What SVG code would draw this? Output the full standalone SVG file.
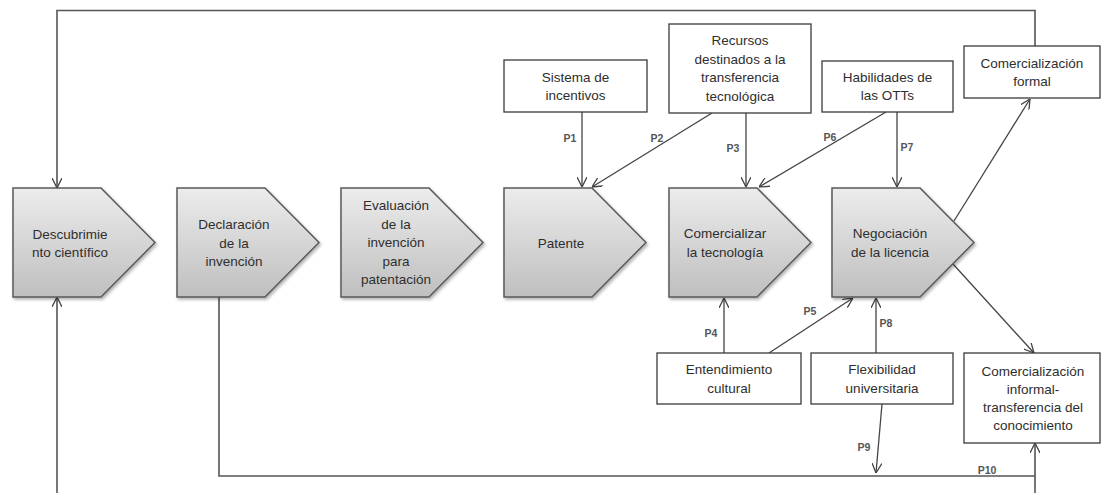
<svg xmlns="http://www.w3.org/2000/svg" width="1102" height="493" viewBox="0 0 1102 493">
<defs>
<linearGradient id="pg" x1="0" y1="0" x2="0" y2="1">
<stop offset="0" stop-color="#ececec"/>
<stop offset="1" stop-color="#bfbfbf"/>
</linearGradient>
<filter id="sh" x="-10%" y="-10%" width="125%" height="125%">
<feDropShadow dx="1.5" dy="2" stdDeviation="1.5" flood-color="#000" flood-opacity="0.3"/>
</filter>
<marker id="arr" viewBox="0 0 10 10" refX="10" refY="5" markerWidth="10" markerHeight="10" markerUnits="userSpaceOnUse" orient="auto">
<path d="M0,0 L10,5 L0,10" fill="none" stroke="#444" stroke-width="1.3"/>
</marker>
<style>
.pent{fill:url(#pg);stroke:#5a5a5a;stroke-width:1.5;filter:url(#sh)}
.box{fill:#fff;stroke:#3a3a3a;stroke-width:1.3}
.t{font-family:"Liberation Sans",Arial,sans-serif;font-size:13.5px;fill:#2e2e2e;text-anchor:middle}
.p{font-family:"Liberation Sans",Arial,sans-serif;font-size:10.5px;font-weight:bold;fill:#555;text-anchor:middle}
.c{fill:none;stroke:#444;stroke-width:1.3}
.f{fill:none;stroke:#555;stroke-width:1.6}
</style>
</defs>
<rect width="1102" height="493" fill="#fff"/>

<g id="connectors">
<path class="f" d="M1035,46 V10.5 H57 V188" marker-end="url(#arr)"/>
<path class="f" d="M57,493 V297" marker-end="url(#arr)"/>
<path class="f" d="M219,297 V476 H1035"/>
<path class="f" d="M1035,493 V443" marker-end="url(#arr)"/>
<path class="c" d="M582,112 V187" marker-end="url(#arr)"/>
<path class="c" d="M712,113 L592,187" marker-end="url(#arr)"/>
<path class="c" d="M746,113 V187" marker-end="url(#arr)"/>
<path class="c" d="M886,112 L759,187" marker-end="url(#arr)"/>
<path class="c" d="M897,112 V187" marker-end="url(#arr)"/>
<path class="c" d="M954,221 L1030,99" marker-end="url(#arr)"/>
<path class="c" d="M953,264 L1034,353" marker-end="url(#arr)"/>
<path class="c" d="M724,353 V298" marker-end="url(#arr)"/>
<path class="c" d="M769,353 L853,298" marker-end="url(#arr)"/>
<path class="c" d="M876,353 V298" marker-end="url(#arr)"/>
<path class="c" d="M882,404 L876,473" marker-end="url(#arr)"/>
<text class="p" x="570" y="141.5">P1</text>
<text class="p" x="657" y="141.5">P2</text>
<text class="p" x="733" y="151.5">P3</text>
<text class="p" x="830" y="140.5">P6</text>
<text class="p" x="907" y="150.5">P7</text>
<text class="p" x="711" y="336.5">P4</text>
<text class="p" x="810" y="314.5">P5</text>
<text class="p" x="886" y="326.5">P8</text>
<text class="p" x="864" y="450.5">P9</text>
<text class="p" x="987" y="473.5">P10</text>
</g>

<g id="descubrimiento">
<path class="pent" d="M13,188 H101 L155,242.5 L101,297 H13 Z"/>
<text class="t" x="70" y="238.5">Descubrimie</text>
<text class="t" x="70" y="256.5">nto científico</text>
</g>
<g id="declaracion">
<path class="pent" d="M177,188 H265 L319,242.5 L265,297 H177 Z"/>
<text class="t" x="234" y="229">Declaración</text>
<text class="t" x="234" y="247.5">de la</text>
<text class="t" x="234" y="266">invención</text>
</g>
<g id="evaluacion">
<path class="pent" d="M341,188 H429 L483,242.5 L429,297 H341 Z"/>
<text class="t" x="396" y="210">Evaluación</text>
<text class="t" x="396" y="228.5">de la</text>
<text class="t" x="396" y="247">invención</text>
<text class="t" x="396" y="265.5">para</text>
<text class="t" x="396" y="284">patentación</text>
</g>
<g id="patente">
<path class="pent" d="M504,188 H592 L646,242.5 L592,297 H504 Z"/>
<text class="t" x="561" y="247.5">Patente</text>
</g>
<g id="comercializar">
<path class="pent" d="M669,188 H757 L811,242.5 L757,297 H669 Z"/>
<text class="t" x="725" y="238">Comercializar</text>
<text class="t" x="725" y="256.5">la tecnología</text>
</g>
<g id="negociacion">
<path class="pent" d="M832,188 H920 L974,242.5 L920,297 H832 Z"/>
<text class="t" x="890" y="238">Negociación</text>
<text class="t" x="890" y="256.5">de la licencia</text>
</g>

<g id="sistema">
<rect class="box" x="504" y="60" width="143" height="52"/>
<text class="t" x="575.5" y="81.5">Sistema de</text>
<text class="t" x="575.5" y="99.5">incentivos</text>
</g>
<g id="recursos">
<rect class="box" x="669" y="24" width="142" height="89"/>
<text class="t" x="740" y="45">Recursos</text>
<text class="t" x="740" y="63.7">destinados a la</text>
<text class="t" x="740" y="82.3">transferencia</text>
<text class="t" x="740" y="101">tecnológica</text>
</g>
<g id="habilidades">
<rect class="box" x="822" y="61" width="131" height="51"/>
<text class="t" x="887.5" y="82">Habilidades de</text>
<text class="t" x="887.5" y="100">las OTTs</text>
</g>
<g id="formal">
<rect class="box" x="964" y="46" width="136" height="52"/>
<text class="t" x="1032" y="67.5">Comercialización</text>
<text class="t" x="1032" y="86">formal</text>
</g>
<g id="entendimiento">
<rect class="box" x="657" y="353" width="144" height="51"/>
<text class="t" x="729" y="374">Entendimiento</text>
<text class="t" x="729" y="392.5">cultural</text>
</g>
<g id="flexibilidad">
<rect class="box" x="811" y="353" width="142" height="51"/>
<text class="t" x="882" y="374">Flexibilidad</text>
<text class="t" x="882" y="392.5">universitaria</text>
</g>
<g id="informal">
<rect class="box" x="964" y="353" width="136" height="90"/>
<text class="t" x="1033" y="375.5">Comercialización</text>
<text class="t" x="1033" y="393.5">informal-</text>
<text class="t" x="1033" y="411.5">transferencia del</text>
<text class="t" x="1033" y="429.5">conocimiento</text>
</g>
</svg>
